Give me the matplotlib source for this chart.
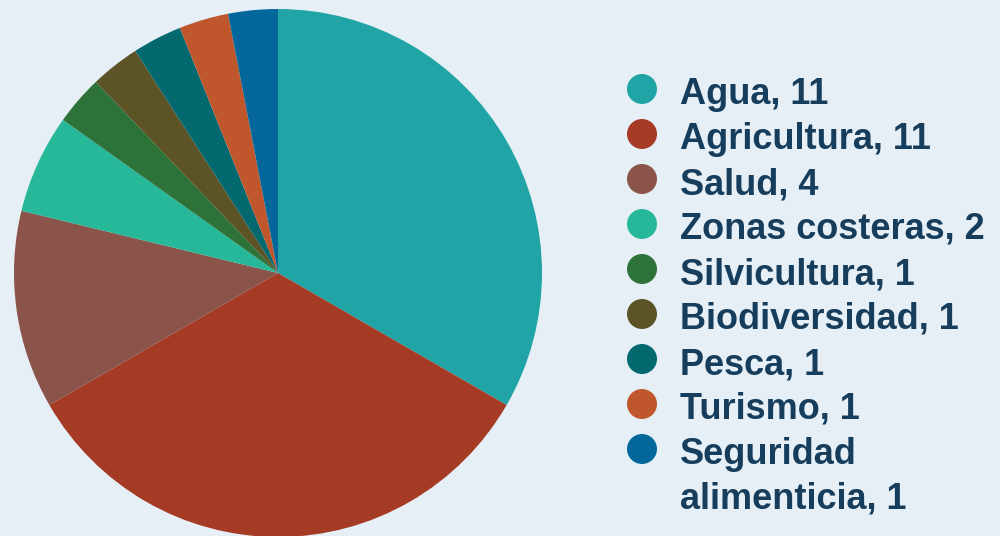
"""Pie chart: adaptation sectors by number of measures (reference recreation)."""
import matplotlib

matplotlib.use("Agg")

import matplotlib.pyplot as plt
from matplotlib.patches import Circle

sectors = [
    "Agua", "Agricultura", "Salud", "Zonas costeras", "Silvicultura",
    "Biodiversidad", "Pesca", "Turismo", "Seguridad\nalimenticia",
]
counts = [11, 11, 4, 2, 1, 1, 1, 1, 1]
colors = [
    "#20a4a5", "#a53b24", "#8a544b", "#26b898", "#2d7339",
    "#5c5427", "#03696e", "#bf562c", "#04679c",
]

BG = "#e6eff5"
TEXT = "#173d5c"

W, H = 1000, 536
fig = plt.figure(figsize=(W / 100, H / 100), dpi=100, facecolor=BG)

# pie: centre (278, 273) px from top-left, radius 264 px
cx, cy, r = 278, 273, 264
ax = fig.add_axes([(cx - r) / W, (H - cy - r) / H, 2 * r / W, 2 * r / H])
ax.pie(counts, colors=colors, startangle=90, counterclock=False,
       radius=1, wedgeprops={"linewidth": 0})
ax.set_xlim(-1, 1)
ax.set_ylim(-1, 1)
ax.set_aspect("auto")
ax.axis("off")
for p in ax.patches:
    p.set_clip_on(False)

# legend drawn in a pixel-coordinate overlay
lax = fig.add_axes([0, 0, 1, 1], facecolor="none")
lax.set_xlim(0, W)
lax.set_ylim(H, 0)
lax.axis("off")

y = 89
for name, n, col in zip(sectors, counts, colors):
    lax.add_patch(Circle((642, y), 15, color=col, linewidth=0))
    lines = f"{name}, {n}".split("\n")
    for i, line in enumerate(lines):
        lax.text(680, y + 15 + i * 44, line, color=TEXT, fontsize=26,
                 fontweight="bold", family="Liberation Sans",
                 va="baseline", ha="left")
    y += 45

fig.savefig("out.png", dpi=100, facecolor=BG)
